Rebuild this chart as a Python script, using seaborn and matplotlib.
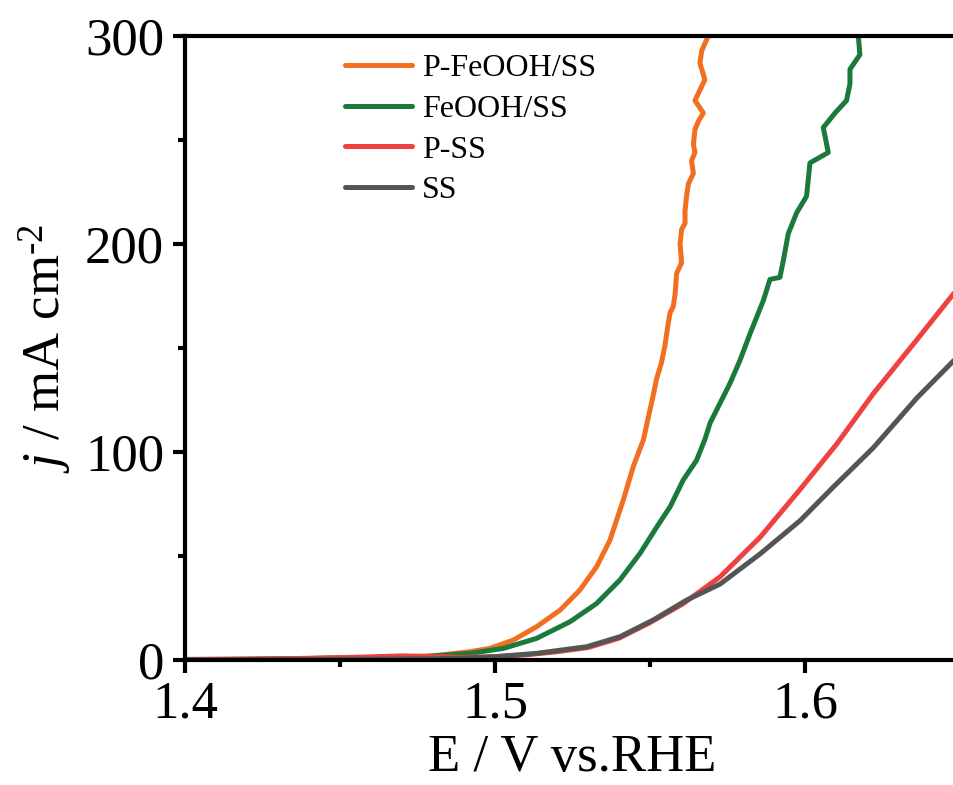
import matplotlib
matplotlib.use("Agg")
import matplotlib.pyplot as plt
import seaborn as sns
import pandas as pd
from matplotlib.ticker import MultipleLocator

# Polarisation curves: potential E (V vs. RHE) and current density j (mA cm^-2)
pfeooh_E = [1.400, 1.420, 1.440, 1.455, 1.470, 1.4800, 1.4919, 1.4984, 1.5059, 1.5134,
            1.5210, 1.5274, 1.5328, 1.5371, 1.5414, 1.5446, 1.5479, 1.5495, 1.5510,
            1.5521, 1.5537, 1.5548, 1.5559, 1.5565, 1.5575, 1.5581, 1.5586, 1.5602,
            1.5597, 1.5602, 1.5613, 1.5613, 1.5618, 1.5624, 1.5640, 1.5634, 1.5645,
            1.5640, 1.5645, 1.5656, 1.5672, 1.5645, 1.5661, 1.5677, 1.5661, 1.5667,
            1.5688]
pfeooh_j = [0.2, 0.4, 0.8, 1.2, 1.6, 2.0, 4.0, 5.6, 9.6, 16,
            24, 33.7, 44.9, 57.7, 77, 93, 106, 117, 127,
            135, 143, 151, 162, 167, 170, 176, 186, 191,
            200, 207, 210, 216, 223, 229, 234, 240, 244,
            248, 255, 259, 263, 269, 274, 279, 287, 293,
            300]

feooh_E = [1.400, 1.420, 1.440, 1.460, 1.4758, 1.4919, 1.5027, 1.5134, 1.5242, 1.5328,
           1.5403, 1.5468, 1.5522, 1.5565, 1.5607, 1.5650, 1.5677, 1.5694, 1.5726,
           1.5758, 1.5790, 1.5823, 1.5866, 1.5887, 1.5919, 1.5930, 1.5946, 1.5973,
           1.6005, 1.6016, 1.6075, 1.6059, 1.6097, 1.6134, 1.6145, 1.6145, 1.6177,
           1.6172]
feooh_j = [0.1, 0.3, 0.7, 1.2, 1.5, 3.2, 5.6, 10.4, 18.4, 27.2,
           38.5, 51.3, 64, 73.7, 86.5, 96, 106, 114, 123.5,
           133, 144, 157, 173, 183, 184, 192, 205, 215,
           223, 239, 244, 256, 263, 269, 277, 284, 291,
           300]

pss_E = [1.400, 1.420, 1.440, 1.460, 1.470, 1.480, 1.490, 1.500, 1.510, 1.520, 1.530,
         1.540, 1.550, 1.5606, 1.5726, 1.5855, 1.5984, 1.6103, 1.6220, 1.6361, 1.6500]
pss_j = [0.3, 0.5, 0.8, 1.5, 2.0, 1.6, 1.3, 1.6, 2.5, 4.0, 6.0,
         10.5, 18, 27, 40, 59, 82, 104, 128, 154, 180]

ss_E = [1.400, 1.420, 1.440, 1.460, 1.480, 1.4919, 1.500, 1.5134, 1.5296, 1.5403,
        1.5510, 1.5618, 1.5726, 1.5855, 1.5984, 1.6090, 1.6220, 1.6361, 1.6500]
ss_j = [0.1, 0.2, 0.3, 0.4, 0.6, 1.0, 1.6, 3.2, 6.4, 11.2,
        19.2, 28.8, 36.5, 51, 67, 83, 102, 126, 147]

labels = ["P-FeOOH/SS", "FeOOH/SS", "P-SS", "SS"]
colors = ["#f26f21", "#1b7a3b", "#ef4142", "#555555"]

frames = []
for name, E, j in zip(labels, [pfeooh_E, feooh_E, pss_E, ss_E],
                      [pfeooh_j, feooh_j, pss_j, ss_j]):
    frames.append(pd.DataFrame({"E": E, "j": j, "sample": name}))
df = pd.concat(frames, ignore_index=True)

sns.set_theme(style="ticks")
plt.rcParams["font.family"] = ["Liberation Serif", "DejaVu Serif"]
plt.rcParams["text.color"] = "black"
plt.rcParams["axes.labelcolor"] = "black"
plt.rcParams["xtick.color"] = "black"
plt.rcParams["ytick.color"] = "black"
plt.rcParams["mathtext.fontset"] = "custom"
plt.rcParams["mathtext.rm"] = "Liberation Serif"
plt.rcParams["mathtext.it"] = "Liberation Serif:italic"

fig = plt.figure(figsize=(9.54, 7.85), dpi=100)
ax = fig.add_axes([0.1939, 0.1592, 0.8124, 0.7949])

sns.lineplot(data=df, x="E", y="j", hue="sample", hue_order=labels,
             palette=colors, estimator=None, sort=False,
             linewidth=3.6, ax=ax)

ax.set_xlim(1.4, 1.65)
ax.set_ylim(0, 300)
ax.set_xticks([1.4, 1.5, 1.6])
ax.set_xticklabels(["1.4", "1.5", "1.6"])
ax.xaxis.set_minor_locator(MultipleLocator(0.05))
ax.yaxis.set_major_locator(MultipleLocator(100))
ax.yaxis.set_minor_locator(MultipleLocator(50))

for s in ax.spines.values():
    s.set_linewidth(3.0)
    s.set_color("black")
ax.tick_params(which="major", direction="out", length=9, width=3.0,
               labelsize=38, pad=6, colors="black")
ax.tick_params(which="minor", direction="out", length=5, width=3.0)

ax.set_xlabel("E / V vs.RHE", fontsize=38, labelpad=4)
ax.set_ylabel(r"$j$ / mA cm$^{\text{-}2}$", fontsize=38, labelpad=8)

leg = ax.legend(loc="upper left", bbox_to_anchor=(0.207, 0.972), frameon=False,
                fontsize=23, handlelength=2.1, handletextpad=0.3,
                labelspacing=0.36, borderaxespad=0, borderpad=0)
for line in leg.get_lines():
    line.set_linewidth(3.6)
for t in leg.get_texts():
    t.set_color("black")

fig.savefig("out.png", dpi=100)
